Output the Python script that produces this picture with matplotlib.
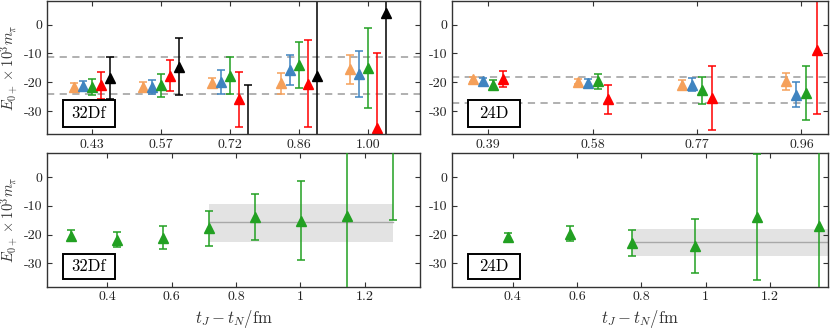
import numpy as np
import matplotlib
matplotlib.use("Agg")
import matplotlib.pyplot as plt
from matplotlib.patches import Rectangle

plt.rcParams['font.family'] = ['cmr10', 'DejaVu Serif']
plt.rcParams['mathtext.fontset'] = 'cm'
plt.rcParams['axes.unicode_minus'] = False

# ---- data: top panels (grouped by source-sink separation) ----
labels_32 = ['0.43', '0.57', '0.72', '0.86', '1.00']
labels_24 = ['0.39', '0.58', '0.77', '0.96']

colors = ['#f5a05a', '#3f84c0', '#22a022', '#ff0000', '#000000']

val_32 = [
    [-21.7, -21.5, -20.3, -20.4, -15.5],   # orange
    [-21.3, -21.6, -20.0, -15.7, -17.1],   # blue
    [-21.7, -21.0, -17.7, -14.0, -15.1],   # green
    [-21.0, -17.7, -26.0, -20.5, -36.0],   # red
    [-18.5, -14.6, -44.0, -17.9, 4.0],     # black
]
err_32 = [
    [1.5, 1.7, 1.8, 3.7, 5.0],
    [1.7, 2.4, 4.1, 5.3, 8.0],
    [2.7, 4.0, 6.3, 8.0, 13.9],
    [4.7, 5.5, 9.4, 15.2, 26.0],
    [7.2, 9.8, 23.0, 30.0, 45.0],
]

val_24 = [
    [-19.0, -19.8, -20.8, -19.7],
    [-19.6, -20.4, -20.8, -24.3],
    [-20.9, -19.7, -22.8, -23.7],
    [-18.9, -26.0, -25.6, -8.9],
]
err_24 = [
    [0.8, 0.8, 1.4, 3.0],
    [1.0, 1.4, 2.1, 4.3],
    [1.6, 2.6, 4.6, 9.4],
    [2.9, 5.1, 11.1, 22.1],
]

dash_32 = [-11.4, -24.2]
dash_24 = [-18.1, -27.3]

# ---- data: bottom panels (green series vs t) ----
t_32 = [0.286, 0.429, 0.572, 0.716, 0.859, 1.002, 1.145, 1.288]
y_32 = [-20.4, -21.7, -21.1, -17.8, -13.9, -15.1, -13.4, 12.0]
e_32 = [1.9, 2.7, 4.0, 6.2, 8.0, 13.7, 35.0, 27.0]

t_24 = [0.386, 0.579, 0.772, 0.966, 1.159, 1.352]
y_24 = [-20.9, -19.6, -22.8, -23.8, -13.9, -17.0]
e_24 = [1.6, 2.5, 4.6, 9.4, 22.0, 30.0]

band_32 = (0.716, 1.288, -15.7, -22.4, -9.2)   # x0, x1, centre, low, high
band_24 = (0.772, 1.45, -22.7, -27.5, -17.9)

yticks = [0, -10, -20, -30]
ytick_labels = ['0', '-10', '-20', '-30']
xticks_bot = [0.4, 0.6, 0.8, 1.0, 1.2]
xtick_labels_bot = ['0.4', '0.6', '0.8', '1', '1.2']

ylim = (-38.0, 8.4)
W, H = 830, 330
fig = plt.figure(figsize=(W / 100, H / 100), dpi=100)


def px_axes(x0, x1, y0, y1):
    return fig.add_axes([x0 / W, 1 - y1 / H, (x1 - x0) / W, (y1 - y0) / H])


def style(ax):
    ax.set_ylim(*ylim)
    ax.set_yticks(yticks)
    ax.set_yticklabels(ytick_labels)
    ax.tick_params(direction='in', top=True, right=True, labelsize=10,
                   length=3.5, width=0.8, colors='#333333', labelcolor='#222222')
    ax.tick_params(axis='y', pad=3)
    for s in ax.spines.values():
        s.set_linewidth(1.0)
        s.set_color('#333333')


def label_box(ax, text, y0, y1):
    ax.add_patch(Rectangle((0.043, y0), 0.139, y1 - y0, transform=ax.transAxes,
                           fc='white', ec='black', lw=1.4, zorder=5))
    ax.text(0.1125, (y0 + y1) / 2, text, transform=ax.transAxes, ha='center',
            va='center', fontsize=12, zorder=6)


ylab = r'$E_{0+}\times 10^3 m_\pi$'
xlab = r'$t_J - t_N/\mathrm{fm}$'


def put_ylabel(ax):
    ax.set_ylabel(ylab, fontsize=10.5, color='#333333')
    ax.yaxis.set_label_coords(-0.072, 0.5)


# top-left
ax = px_axes(47, 420, 0.5, 134)
offs = [-2, -1, 0, 1, 2]
for k in range(5):
    x = np.arange(len(labels_32)) + offs[k] * 0.13
    ax.errorbar(x, val_32[k], yerr=err_32[k], fmt='^', color=colors[k], ms=6.5,
                capsize=3, elinewidth=1.1, capthick=1.1)
for d in dash_32:
    ax.axhline(d, color='#aaaaaa', ls='--', lw=1.3, dashes=(4, 3), zorder=0)
ax.set_xlim(-0.645, 4.75)
ax.set_xticks(range(len(labels_32)))
ax.set_xticklabels(labels_32)
style(ax)
put_ylabel(ax)
label_box(ax, '32Df', 0.052, 0.254)

# top-right
ax = px_axes(452, 828, 0.5, 134)
offs = [-1.5, -0.5, 0.5, 1.5]
for k in range(4):
    x = np.arange(len(labels_24)) + offs[k] * 0.096
    ax.errorbar(x, val_24[k], yerr=err_24[k], fmt='^', color=colors[k], ms=6.5,
                capsize=3, elinewidth=1.1, capthick=1.1)
for d in dash_24:
    ax.axhline(d, color='#aaaaaa', ls='--', lw=1.3, dashes=(4, 3), zorder=0)
ax.set_xlim(-0.348, 3.254)
ax.set_xticks(range(len(labels_24)))
ax.set_xticklabels(labels_24)
style(ax)
label_box(ax, '24D', 0.052, 0.254)

# bottom panels
for (x0, x1), t, y, e, band, name, ylabel in [
        ((47, 420), t_32, y_32, e_32, band_32, '32Df', True),
        ((452, 828), t_24, y_24, e_24, band_24, '24D', False)]:
    ax = px_axes(x0, x1, 153, 286.5)
    bx0, bx1, bc, blo, bhi = band
    ax.fill_between([bx0, bx1], blo, bhi, color='#e3e3e3', lw=0, zorder=0)
    ax.plot([bx0, bx1], [bc, bc], color='#a8a8a8', lw=1.0, zorder=1)
    ax.errorbar(t, y, yerr=e, fmt='^', color=colors[2], ms=6.5,
                capsize=3, elinewidth=1.1, capthick=1.1, zorder=3)
    ax.set_xlim(0.212, 1.372 if name == '32Df' else 1.38)
    ax.set_xticks(xticks_bot)
    ax.set_xticklabels(xtick_labels_bot)
    style(ax)
    ax.set_xlabel(xlab, fontsize=12, labelpad=3, color='#333333')
    if ylabel:
        put_ylabel(ax)
    label_box(ax, name, 0.055, 0.245)

fig.savefig('out.png', dpi=100)
